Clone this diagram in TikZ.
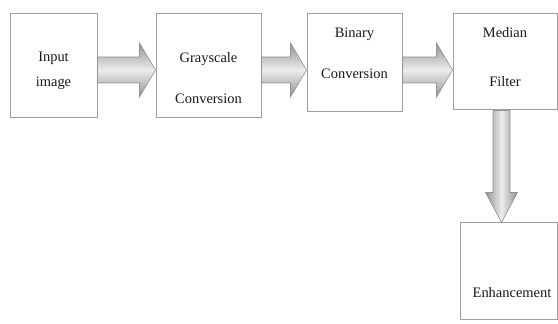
\documentclass[tikz,border=0pt]{standalone}
\usepackage{fontspec}
\setmainfont{Liberation Serif}
\usepackage{tikz}
\usetikzlibrary{positioning}

\tikzset{
  box/.style={draw=gray!75,line width=1bp,fill=white},
  txt/.style={align=center,text=black!90,font=\fontsize{14.5}{17}\selectfont},
  hshade/.style={draw=gray!85,line width=0.6bp,top color=gray!85,bottom color=gray!85,middle color=gray!15},
  vshade/.style={draw=gray!85,line width=0.6bp,left color=gray!85,right color=gray!85,middle color=gray!15},
}

% block arrow between two boxes, axis at height #3
\newcommand{\hblock}[3]{%
  \coordinate (arr_from) at (#1.east |- 0,#3);
  \coordinate (arr_to) at (#2.west |- 0,#3);
  \shadedraw[hshade] ([yshift=13bp]arr_from) -- ([xshift=-16bp,yshift=13bp]arr_to)
    -- ([xshift=-16bp,yshift=27bp]arr_to) -- (arr_to)
    -- ([xshift=-16bp,yshift=-27bp]arr_to) -- ([xshift=-16bp,yshift=-13bp]arr_to)
    -- ([yshift=-13bp]arr_from) -- cycle;}

\begin{document}
\begin{tikzpicture}[>=latex,line join=miter]
\useasboundingbox (0,0) rectangle (558bp,324bp);
%%
\node (input) at (53.5bp,258bp) [box,minimum width=87bp,minimum height=104bp] {};
  \node (gray) at (208.5bp,258bp) [box,minimum width=105bp,minimum height=104bp] {};
  \node (binary) at (354.5bp,261bp) [box,minimum width=95bp,minimum height=98bp] {};
  \node (median) at (505bp,262bp) [box,minimum width=104bp,minimum height=96bp] {};
  \node (enhance) at (508.5bp,52.5bp) [box,minimum width=97bp,minimum height=97bp] {};
%
\node (input_txt) at ([yshift=-4.5bp]input.center) [txt] {Input\\[8bp]image};
  \node (gray_txt) at ([yshift=-12.5bp]gray.center) [txt] {Grayscale\\[24bp]Conversion};
  \node (binary_txt) at ([yshift=9.5bp]binary.center) [txt] {Binary\\[24bp]Conversion};
  \node (median_txt) at ([yshift=4.5bp]median.center) [txt] {Median\\[32bp]Filter};
  \node (enhance_txt) at ([xshift=3.5bp,yshift=-21.5bp]enhance.center) [txt] {Enhancement};
%
\hblock{input}{gray}{254bp}
  \hblock{gray}{binary}{254bp}
  \hblock{binary}{median}{254bp}
%
\coordinate (down_from) at (501.5bp,0 |- median.south);
  \coordinate (down_to) at (501.5bp,0 |- enhance.north);
  \shadedraw[vshade] ([xshift=-8.5bp]down_from) -- ([xshift=-8.5bp,yshift=30bp]down_to)
    -- ([xshift=-16bp,yshift=30bp]down_to) -- (down_to)
    -- ([xshift=16bp,yshift=30bp]down_to) -- ([xshift=8.5bp,yshift=30bp]down_to)
    -- ([xshift=8.5bp]down_from) -- cycle;
%
\end{tikzpicture}
\end{document}
